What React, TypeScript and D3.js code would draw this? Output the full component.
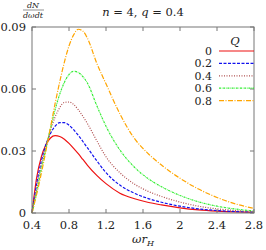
import React from "react";
import * as d3 from "d3";

// omega r_H sample points
const omega = [0.4, 0.45, 0.5, 0.55, 0.6, 0.65, 0.7, 0.75, 0.8, 0.85, 0.9, 0.95, 1.0, 1.1, 1.2, 1.35, 1.5, 1.65, 1.8, 2.0, 2.2, 2.4, 2.6, 2.8];

// dN/dωdt for each Q
const q00 = [0, 0.017, 0.027, 0.033, 0.0363, 0.0374, 0.037, 0.0357, 0.0337, 0.0313, 0.0287, 0.0259, 0.0231, 0.0182, 0.0142, 0.0096, 0.007, 0.0052, 0.0039, 0.0025, 0.0015, 0.0009, 0.0005, 0.0003];
const q02 = [0, 0.014, 0.025, 0.033, 0.0385, 0.042, 0.0437, 0.0437, 0.0425, 0.0403, 0.0376, 0.0346, 0.0315, 0.0253, 0.0195, 0.0135, 0.0097, 0.0071, 0.0052, 0.0033, 0.002, 0.0012, 0.0007, 0.0004];
const q04 = [0, 0.012, 0.023, 0.032, 0.04, 0.0465, 0.051, 0.0535, 0.0537, 0.0525, 0.05, 0.0468, 0.0432, 0.035, 0.0272, 0.0195, 0.0142, 0.0106, 0.008, 0.0053, 0.0033, 0.002, 0.0012, 0.0006];
const q06 = [0, 0.01, 0.021, 0.031, 0.041, 0.05, 0.0575, 0.0632, 0.067, 0.0686, 0.068, 0.066, 0.0628, 0.052, 0.042, 0.0305, 0.0225, 0.0168, 0.0127, 0.0085, 0.0054, 0.0033, 0.0019, 0.001];
const q08 = [0, 0.009, 0.019, 0.03, 0.0415, 0.053, 0.0635, 0.073, 0.0808, 0.0862, 0.0889, 0.088, 0.0845, 0.0725, 0.0625, 0.048, 0.0365, 0.029, 0.0232, 0.0168, 0.0116, 0.0075, 0.0044, 0.0022];

const legendLabels = ["0", "0.2", "0.4", "0.6", "0.8"];
const xTicks = [0.4, 0.8, 1.2, 1.6, 2, 2.4, 2.8];
const yTicks = [0, 0.03, 0.06, 0.09];

const series = [q00, q02, q04, q06, q08];
const colors = ["#ee1111", "#1111ee", "#b05050", "#33ee33", "#ffa500"];
const dashes = ["none", "3,1.5", "1,1.5", "2,0.8,0.6,0.8", "5,1.5,1,1.5"];

const W = 266;
const H = 250;
const left = 32;
const right = 254;
const top = 27;
const bottom = 213;
const font = "'DejaVu Serif', serif";
const axisColor = "#777";

export default function App() {
    const x = d3.scaleLinear().domain([0.4, 2.8]).range([left, right]);
    const y = d3.scaleLinear().domain([0, 0.09]).range([bottom, top]);

    const line = d3.line<number>()
        .x((d, i) => x(omega[i]))
        .y(d => y(d))
        .curve(d3.curveMonotoneX);

    const fmt = (v: number) => (v === 0 ? "0" : String(v));

    return (
        <svg width={W} height={H} style={{ position: "absolute", left: 0, top: 0, fontFamily: font }}>
            <rect x={0} y={0} width={W} height={H} fill="white" />

            {/* curves */}
            <g fill="none" strokeWidth={1.2}>
                {series.map((s, i) => (
                    <path key={i} d={line(s) || ""} stroke={colors[i]} strokeDasharray={dashes[i]} />
                ))}
            </g>

            {/* frame */}
            <rect x={left} y={top} width={right - left} height={bottom - top} fill="none" stroke={axisColor} strokeWidth={1} />

            {/* x ticks */}
            {xTicks.map(t => (
                <g key={"x" + t}>
                    <line x1={x(t)} x2={x(t)} y1={bottom} y2={bottom - 4} stroke={axisColor} />
                    <line x1={x(t)} x2={x(t)} y1={top} y2={top + 4} stroke={axisColor} />
                    <text x={x(t)} y={bottom + 16} fontSize={11.5} textAnchor="middle" fill="#222">{fmt(t)}</text>
                </g>
            ))}

            {/* y ticks */}
            {yTicks.map(t => (
                <g key={"y" + t}>
                    <line x1={left} x2={left + 4} y1={y(t)} y2={y(t)} stroke={axisColor} />
                    <line x1={right} x2={right - 4} y1={y(t)} y2={y(t)} stroke={axisColor} />
                    <text x={left - 6} y={y(t) + 4} fontSize={11.5} textAnchor="end" fill="#222">{fmt(t)}</text>
                </g>
            ))}

            {/* y label fraction */}
            <g fontSize={8} fontStyle="italic" fill="#222" textAnchor="middle">
                <text x={33} y={8}>dN</text>
                <line x1={23} x2={44} y1={10} y2={10} stroke="#222" strokeWidth={0.5} />
                <text x={33} y={18}>dωdt</text>
            </g>

            {/* title */}
            <text x={143} y={16} fontSize={11.5} textAnchor="middle" fill="#222">
                <tspan fontStyle="italic">n</tspan> = 4, <tspan fontStyle="italic">q</tspan> = 0.4
            </text>

            {/* x label */}
            <text x={143} y={243} fontSize={11.5} textAnchor="middle" fill="#222" fontStyle="italic">
                ωr<tspan fontSize={8} dy={2.5}>H</tspan>
            </text>

            {/* legend */}
            <text x={235} y={45} fontSize={11.5} fontStyle="italic" textAnchor="middle" fill="#222">Q</text>
            {legendLabels.map((lab, i) => {
                const ly = 51 + i * 12.4;
                return (
                    <g key={lab}>
                        <text x={212} y={ly + 4} fontSize={11} textAnchor="end" fill="#222">{lab}</text>
                        <line x1={219} x2={254} y1={ly} y2={ly} stroke={colors[i]} strokeWidth={1.2} strokeDasharray={dashes[i]} />
                    </g>
                );
            })}
        </svg>
    );
}
